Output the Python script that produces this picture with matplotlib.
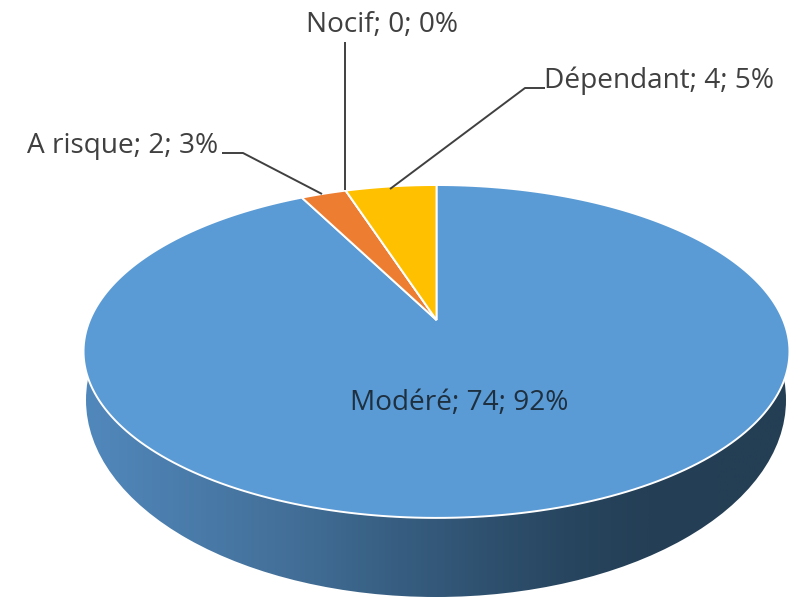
import numpy as np
import matplotlib
matplotlib.use("Agg")
import matplotlib.pyplot as plt
from matplotlib.colors import LinearSegmentedColormap
from matplotlib.patches import Ellipse
from matplotlib.path import Path
from matplotlib.transforms import Transform, Affine2D

categories = ["Modéré", "A risque", "Nocif", "Dépendant"]
values = [74, 2, 0, 4]
percents = [92, 3, 0, 5]
colors = ["#5B9BD5", "#ED7D31", "#A5A5A5", "#FFC000"]
labels = [f"{c}; {v}; {p}%" for c, v, p in zip(categories, values, percents)]


class PerspectiveDisc(Transform):
    """Projects the unit pie disc onto the tilted top face (pixel coordinates)."""
    input_dims = 2
    output_dims = 2
    is_separable = False
    has_inverse = False

    def __init__(self, cx, cy, a, b, p):
        super().__init__()
        self.cx, self.cy, self.a, self.b, self.p = cx, cy, a, b, p

    def transform_non_affine(self, values):
        v = np.asarray(values, dtype=float)
        w = 1 + self.p * v[:, 1]
        return np.column_stack((self.cx + self.a * v[:, 0] / w,
                                self.cy - self.b * v[:, 1] / w))

    def transform_path_non_affine(self, path):
        big = Affine2D().scale(2000).transform_path(path)
        poly = big.to_polygons(closed_only=True)[0] / 2000
        return Path(self.transform_non_affine(poly), closed=True)


fig = plt.figure(figsize=(8, 5.97), dpi=100, facecolor="white")
ax = fig.add_axes([0, 0, 1, 1])

# Side wall of the pie, with the horizontal shading
side_stops = [(0.0, "#5188BC"), (0.27, "#44719B"), (0.47, "#355B7D"),
              (0.68, "#284660"), (0.8, "#243F56"), (1.0, "#243E54")]
side_cmap = LinearSegmentedColormap.from_list("side", side_stops)
img = ax.imshow(np.linspace(0, 1, 512)[None, :], cmap=side_cmap, aspect="auto",
                extent=(85, 790, 600, 180), zorder=1)
base = Ellipse((436, 400), 700, 394, transform=ax.transData)
img.set_clip_path(base)

# Top face
wedges, _ = ax.pie(values, colors=colors, startangle=90, counterclock=False,
                   wedgeprops={"edgecolor": "white", "linewidth": 1.4, "zorder": 2})
proj = PerspectiveDisc(436.5, 320, 346.6, 160.5, 0.189)
for w in wedges:
    w.set_transform(proj + ax.transData)

ax.set_aspect("auto")
ax.set_xlim(0, 800)
ax.set_ylim(597, 0)
ax.axis("off")

# Leader lines
leader_color = "#404040"
leaders = {
    "A risque": ([222, 243, 322], [153, 153, 194]),
    "Nocif": ([345, 345], [42, 190]),
    "Dépendant": ([545, 525, 390], [88, 88, 189]),
}
for xs, ys in leaders.values():
    ax.plot(xs, ys, color=leader_color, lw=1.4, zorder=3, solid_capstyle="butt")

# Labels
font = "Open Sans"
fs = 20.2
placements = {
    "Modéré": (459, 403, "#1E3040"),
    "A risque": (122.5, 146, "#404040"),
    "Nocif": (382, 25, "#404040"),
    "Dépendant": (658.5, 81, "#404040"),
}
for cat, lab in zip(categories, labels):
    x, y, col = placements[cat]
    ax.text(x, y, lab, ha="center", va="center", fontsize=fs, family=font,
            color=col, zorder=4)

fig.savefig("out.png", dpi=100)
